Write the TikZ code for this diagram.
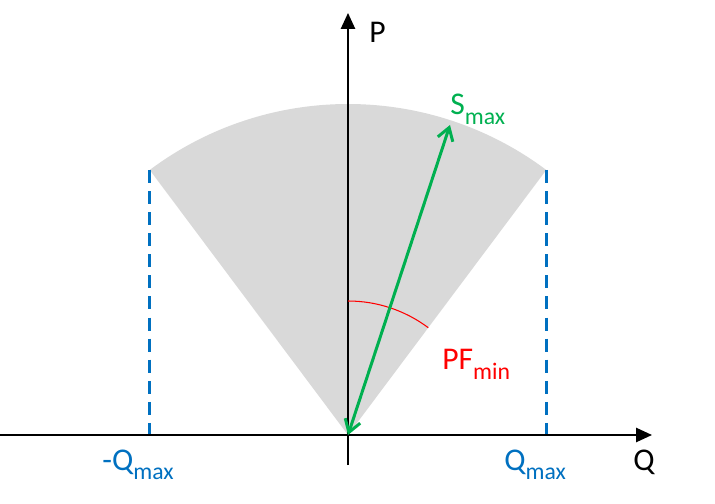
\documentclass[tikz,border=0pt]{standalone}
\usepackage{fontspec}
\setmainfont{Carlito}
\usetikzlibrary{arrows.meta}

\definecolor{sectorgray}{RGB}{217,217,217}
\definecolor{limitblue}{RGB}{0,112,192}
\definecolor{powergreen}{RGB}{0,176,80}

\newcommand{\lowidx}[1]{\raisebox{-5.5pt}{\fontsize{13.5}{14}\selectfont #1}}

\tikzstyle{axis} = [draw, line width=1.1pt, -{Triangle[length=9pt,width=8pt]}]
\tikzstyle{limit} = [draw, limitblue, line width=1.7pt, dash pattern=on 7.4pt off 4.6pt]
\tikzstyle{label} = [anchor=base west, inner sep=0pt, font=\fontsize{18}{20}\selectfont]

\begin{document}
\begin{tikzpicture}[x=0.02cm, y=0.02cm]
\useasboundingbox (0,0) rectangle (715,503);

\coordinate (O) at (348,68);
\coordinate (QStart) at (0,68);
\coordinate (QEnd) at (652,68);
\coordinate (PStart) at (348,38);
\coordinate (PEnd) at (348,490);

%Sector
\fill[sectorgray] (O) -- ++(53.2:331) coordinate (RightCorner)
  arc (53.2:126.8:331) coordinate (LeftCorner) -- cycle;

%Limits
\coordinate (QmaxFoot) at (RightCorner |- O);
\coordinate (NegQmaxFoot) at (LeftCorner |- O);
\path [limit](RightCorner)--(QmaxFoot);
\path [limit](LeftCorner)--(NegQmaxFoot);

%Axes
\path [axis](QStart)--(QEnd);
\path [axis](PStart)--(PEnd);

%Angle and apparent power
\draw[red, line width=0.6pt] (O) ++(90:134) arc (90:53.2:134);
\coordinate (STip) at (450,378);
\draw[powergreen, line width=1.7pt, {Straight Barb[length=7pt,width=9pt]}-{Straight Barb[length=7pt,width=9pt]}] (O)--(STip);

\node (PLabel) [label] at (369,460) {P};
\node (QLabel) [label] at (633,33) {Q};
\node (SLabel) [label, text=powergreen] at (450,388) {S\lowidx{max}};
\node (PFLabel) [label, text=red] at (442,133) {PF\lowidx{min}};
\node (NegQmaxLabel) [label, text=limitblue] at (102,33) {-Q\lowidx{max}};
\node (QmaxLabel) [label, text=limitblue] at (504,33) {Q\lowidx{max}};

\end{tikzpicture}
\end{document}
